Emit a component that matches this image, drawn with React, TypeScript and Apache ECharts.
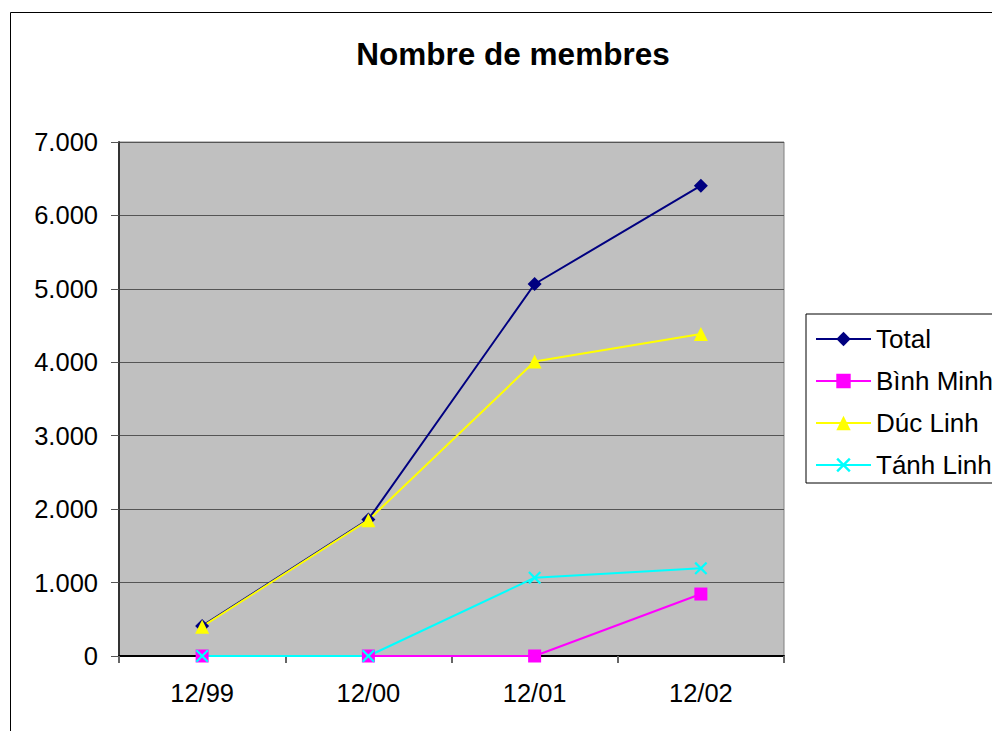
import React, { useEffect, useRef } from "react";
import * as echarts from "echarts";

const categories = ["12/99", "12/00", "12/01", "12/02"];
const seriesNames = ["Total", "Bình Minh", "Dúc Linh", "Tánh Linh"];
const totalValues = [410, 1860, 5066, 6405];
const binhMinhValues = [0, 0, 0, 844];
const ducLinhValues = [400, 1850, 4010, 4385];
const tanhLinhValues = [0, 0, 1066, 1194];
const yTicks = [0, 1000, 2000, 3000, 4000, 5000, 6000, 7000];

const FONT = "Liberation Sans, Arial, sans-serif";
const X_SYMBOL = "path://M0,1.2 L1.2,0 L5,3.8 L8.8,0 L10,1.2 L6.2,5 L10,8.8 L8.8,10 L5,6.2 L1.2,10 L0,8.8 L3.8,5 Z";

export default function App() {
  const ref = useRef<HTMLDivElement>(null);
  useEffect(() => {
    if (!ref.current) return;
    const chart = echarts.init(ref.current, undefined, { renderer: "svg" });
    const fmt = (v: number) => {
      const s = String(Math.round(v));
      return s.replace(/\B(?=(\d{3})+(?!\d))/g, ".");
    };
    const mk = (name: string, data: number[], color: string, symbol: string, size: number) => ({
      name,
      type: "line",
      data,
      symbol,
      symbolSize: size,
      showAllSymbol: true,
      lineStyle: { color, width: 2 },
      itemStyle: { color, borderWidth: 0 },
      emphasis: { disabled: true },
    });
    chart.setOption({
      animation: false,
      backgroundColor: "#ffffff",
      textStyle: { fontFamily: FONT },
      title: {
        text: "Nombre de membres",
        left: 508,
        top: 33,
        textAlign: "center",
        textStyle: { fontFamily: FONT, fontWeight: "bold", fontSize: 31.5, color: "#000" },
      },
      graphic: [
        {
          type: "rect",
          shape: { x: 10.5, y: 12.5, width: 1100, height: 900 },
          style: { fill: "none", stroke: "#000", lineWidth: 1 },
          silent: true,
          z: -10,
        },
      ],
      legend: {
        orient: "vertical",
        left: 806,
        top: 314,
        padding: [12, 40, 5, 9],
        itemGap: 16,
        itemWidth: 55,
        itemHeight: 18,
        borderColor: "#000",
        borderWidth: 1,
        backgroundColor: "#fff",
        data: seriesNames,
        textStyle: { fontFamily: FONT, fontSize: 26, color: "#000", padding: [0, 0, 0, 0] },
      },
      grid: {
        left: 119,
        top: 142,
        width: 665,
        height: 514,
        show: true,
        backgroundColor: "#C0C0C0",
        borderColor: "#808080",
        borderWidth: 1,
      },
      xAxis: {
        type: "category",
        data: categories,
        boundaryGap: true,
        axisLine: { show: true, lineStyle: { color: "#000", width: 2 } },
        axisTick: { show: true, length: 7, lineStyle: { color: "#666", width: 2 } },
        axisLabel: { fontFamily: FONT, fontSize: 25.5, color: "#000", margin: 24 },
        splitLine: { show: false },
      },
      yAxis: {
        type: "value",
        min: 0,
        max: 7000,
        interval: 1000,
        axisLine: { show: true, lineStyle: { color: "#333", width: 2 } },
        axisTick: { show: true, length: 8, lineStyle: { color: "#555", width: 1 } },
        axisLabel: {
          fontFamily: FONT,
          fontSize: 25.5,
          color: "#000",
          margin: 21,
          formatter: (v: number) => (yTicks.includes(v) ? fmt(v) : ""),
        },
        splitLine: { show: true, lineStyle: { color: "#555", width: 1 } },
      },
      series: [
        mk(seriesNames[0], totalValues, "#000080", "diamond", 14),
        mk(seriesNames[1], binhMinhValues, "#FF00FF", "rect", 13),
        mk(seriesNames[2], ducLinhValues, "#FFFF00", "triangle", 14),
        mk(seriesNames[3], tanhLinhValues, "#00FFFF", X_SYMBOL, 13),
      ],
    });
    return () => chart.dispose();
  }, []);
  return (
    <div
      ref={ref}
      style={{ position: "fixed", left: 0, top: 0, width: 992, height: 731, background: "#fff" }}
    />
  );
}
